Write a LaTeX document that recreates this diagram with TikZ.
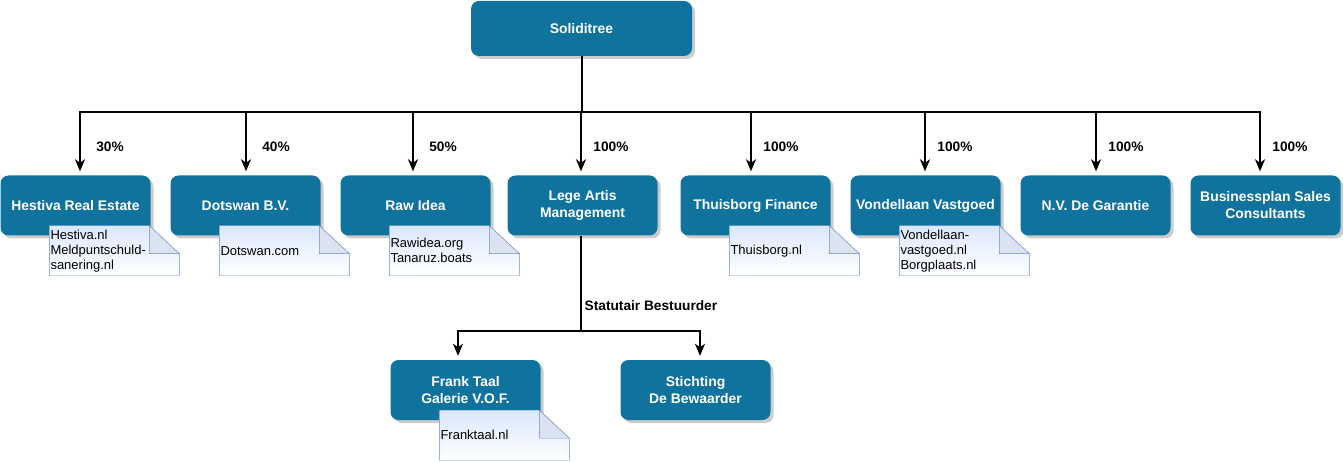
\documentclass[tikz,border=0pt]{standalone}
\usepackage{fontspec}
\setmainfont{Liberation Sans}
\usetikzlibrary{arrows.meta,positioning,shadows}
\definecolor{orgblue}{HTML}{10739E}
\definecolor{noteline}{HTML}{6C8EBF}
\definecolor{notefill}{HTML}{DAE8FC}
\tikzset{
  unit/.style    = {fill=orgblue, rounded corners=8pt, text=white, align=center,
                   font=\fontsize{13.9}{17}\selectfont\bfseries, inner sep=0pt,
                   minimum width=150pt, minimum height=60pt,
                   drop shadow={shadow xshift=3pt, shadow yshift=-3pt, fill=black, opacity=.2}},
  top unit/.style = {unit, minimum width=221pt, minimum height=55pt},
  pct/.style     = {font=\fontsize{13.7}{16}\selectfont\bfseries, inner sep=0pt},
  trunk/.style   = {line width=2pt},
  link/.style    = {trunk, -{Stealth[length=12pt,width=10pt,inset=3.5pt]}, shorten >=4pt},
  webtext/.style = {anchor=west, align=left, text width=128pt, inner sep=1pt,
                   font=\fontsize{13}{15}\selectfont},
}
% dog-ear note hanging under a unit: name, unit, text
\newcommand{\webnote}[3]{%
  \path (#2.south west) ++(49,-10) coordinate (#1-c);
  \draw[noteline, top color=notefill, bottom color=white]
    (#1-c) -- ++(100,0) -- ++(30,28) -- ++(0,22) -- ++(-130,0) -- cycle;
  \draw[noteline, fill=noteline!25] (#1-c) ++(100,0) -- ++(0,28) -- ++(30,0) -- cycle;
  \path (#1-c) ++(0,25) node[webtext] (#1) {#3};
}

\begin{document}
\begin{tikzpicture}[x=1pt, y=-1pt]
  \useasboundingbox (0,0) rectangle (1343,462);

  %top
  \node[top unit] (root) at (581.5,28.5) {Soliditree};

  %first level
  \node[unit] (hestiva)   at (75.5,205.5)   {Hestiva Real Estate};
  \node[unit] (dotswan)   at (245.5,205.5)  {Dotswan B.V.};
  \node[unit] (rawidea)   at (415.5,205.5)  {Raw Idea};
  \node[unit] (legeartis) at (582.5,205.5)  {Lege Artis\\Management};
  \node[unit] (thuisborg) at (755.5,205.5)  {Thuisborg Finance};
  \node[unit] (vondel)    at (925.5,205.5)  {Vondellaan Vastgoed};
  \node[unit] (garantie)  at (1095.5,205.5) {N.V. De Garantie};
  \node[unit] (bsc)       at (1265.5,205.5) {Businessplan Sales\\Consultants};

  %second level
  \node[unit] (franktaal) at (465.5,390) {Frank Taal\\Galerie V.O.F.};
  \node[unit] (bewaarder) at (695.5,390) {Stichting\\De Bewaarder};

  %websites
  \webnote{hestivaweb}{hestiva}{Hestiva.nl\\Meldpuntschuld-\\sanering.nl}
  \webnote{dotswanweb}{dotswan}{Dotswan.com}
  \webnote{rawweb}{rawidea}{Rawidea.org\\Tanaruz.boats}
  \webnote{thuisweb}{thuisborg}{Thuisborg.nl}
  \webnote{vondelweb}{vondel}{Vondellaan-\\vastgoed.nl\\Borgplaats.nl}
  \webnote{frankweb}{franktaal}{Franktaal.nl}

  %connectors
  \coordinate (hub) at (581.5,112);
  \draw[trunk] (root) -- (hub);
  \foreach \u/\dx/\p in {hestiva/4.5/30,dotswan/0.5/40,rawidea/-2.5/50,legeartis/-1.5/100,
                         thuisborg/-4.5/100,vondel/-0.5/100,garantie/0.5/100,bsc/-5.5/100}{
    \draw[link] (hub) -| ([xshift=\dx pt]\u.north);
    \node[pct] at ([shift={(\dx+30,-29)}]\u.north) {\p\%};
  }

  \coordinate (fork) at (580.5,331);
  \draw[trunk] (legeartis.south -| fork) -- (fork);
  \draw[link] (fork) -| ([xshift=-7.5pt]franktaal.north);
  \draw[link] (fork) -| ([xshift=4.5pt]bewaarder.north);
  \node[pct, anchor=west] (statutair) at ([shift={(4,-25)}]fork) {Statutair Bestuurder};
\end{tikzpicture}
\end{document}
